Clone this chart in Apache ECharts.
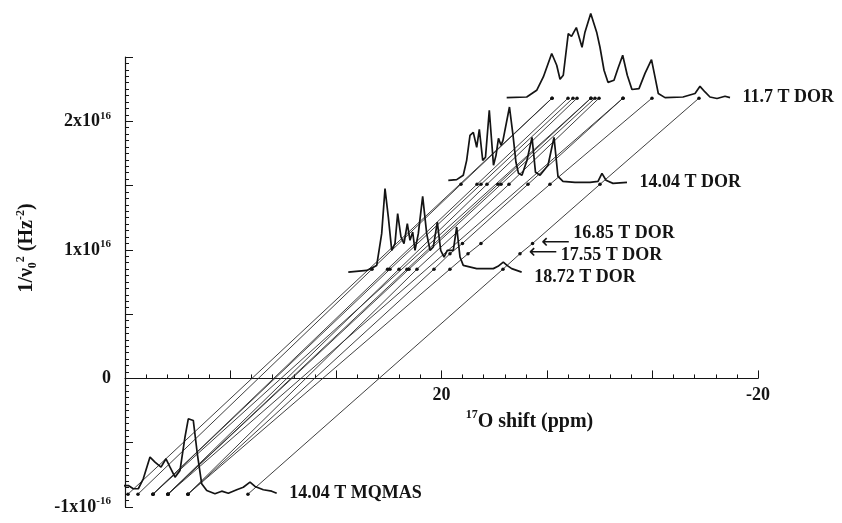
<!DOCTYPE html>
<html>
<head>
<meta charset="utf-8">
<script src="https://cdn.jsdelivr.net/npm/echarts@6/dist/echarts.min.js"></script>
<style>
  html, body { margin: 0; padding: 0; background: #ffffff; }
  #chart { width: 842px; height: 523px; }
</style>
</head>
<body>
<div id="chart"></div>
<script>
// experiments, and their 1/v0^2 level (units of 1e-16 Hz^-2)
const fieldNames  = ['14.04 T MQMAS', '18.72 T DOR', '17.55 T DOR', '16.85 T DOR', '14.04 T DOR', '11.7 T DOR'];
const fieldLevels = [-0.90, 0.85, 0.97, 1.05, 1.51, 2.18];

// observed 17O shift (ppm) of each site at each experiment, null = no mark
const siteShifts = [
  [59.62, null,  null,  null,  null,  6.03],
  [58.36, 28.78, null,  null,  17.54, 6.03],
  [56.46, 26.82, null,  null,  15.51, 4.01],
  [56.46, 26.51, null,  null,  15.01, 3.38],
  [56.46, null,  null,  null,  null,  1.11],
  [54.57, 25.37, null,  null,  14.25, 2.87],
  [54.57, 24.36, null,  null,  12.86, 1.11],
  [54.57, 24.11, null,  null,  12.48, 0.60],
  [54.57, null,  null,  null,  null,  -2.94],
  [52.04, 23.10, null,  null,  11.47, 0.09],
  [52.04, 20.95, 18.93, 17.35, 9.07,  -2.94],
  [52.04, 18.93, 16.65, 15.01, 6.29,  -6.60],
  [44.46, 12.23, 10.08, 8.49,  -0.03, -12.54]
];
// these experiments have no spectrum drawn, only an arrow + name on the last site
const arrowFields = [2, 3];

// spectra: [shift ppm, baseline level + intensity]
const spec1170 = [
  [11.76, 2.184], [9.23, 2.189], [7.97, 2.241], [7.13, 2.345], [6.07, 2.527], [5.44, 2.436],
  [5.02, 2.327], [4.61, 2.358], [3.98, 2.682], [3.57, 2.661], [2.96, 2.729], [2.24, 2.576],
  [1.87, 2.693], [1.14, 2.838], [0.39, 2.693], [-0.03, 2.576], [-0.54, 2.397], [-1.04, 2.303],
  [-1.80, 2.319], [-2.31, 2.412], [-2.90, 2.514], [-3.48, 2.358], [-4.07, 2.247], [-4.96, 2.254],
  [-5.72, 2.373], [-6.54, 2.480], [-6.98, 2.345], [-7.40, 2.216], [-8.25, 2.184], [-10.52, 2.189],
  [-12.04, 2.216], [-12.67, 2.272], [-13.30, 2.228], [-13.93, 2.189], [-14.82, 2.177], [-15.83, 2.195],
  [-16.46, 2.184]
];
const spec1404 = [
  [19.14, 1.541], [18.08, 1.546], [17.25, 1.580], [16.82, 1.696], [16.40, 1.891], [15.98, 1.914],
  [15.55, 1.798], [15.22, 1.938], [14.79, 1.696], [14.44, 1.720], [13.96, 2.086], [13.43, 1.658],
  [13.11, 1.735], [12.80, 1.868], [12.48, 1.813], [12.23, 1.852], [11.41, 2.111], [10.96, 1.891],
  [10.59, 1.681], [10.27, 1.595], [9.83, 1.580], [9.20, 1.696], [8.56, 1.875], [8.12, 1.603],
  [7.55, 1.580], [6.54, 1.658], [5.78, 1.875], [5.28, 1.572], [4.65, 1.533], [3.13, 1.525],
  [1.23, 1.525], [0.22, 1.533], [-0.28, 1.595], [-0.79, 1.541], [-1.67, 1.517], [-3.44, 1.525]
];
const spec1872 = [
  [31.78, 0.827], [29.45, 0.840], [28.19, 0.879], [27.56, 1.126], [27.14, 1.476], [26.72, 1.255],
  [26.29, 0.996], [25.88, 1.048], [25.54, 1.282], [25.12, 1.100], [24.74, 1.048], [24.32, 1.204],
  [23.98, 1.074], [23.64, 1.139], [23.35, 0.996], [22.93, 1.126], [22.38, 1.416], [21.87, 1.126],
  [21.45, 0.996], [21.04, 1.022], [20.53, 1.216], [20.10, 0.996], [19.68, 0.944], [19.27, 0.996],
  [18.51, 0.996], [18.08, 1.178], [17.66, 0.944], [17.25, 0.879], [15.55, 0.854], [13.45, 0.854],
  [12.86, 0.872], [12.19, 0.905], [11.72, 0.879], [11.13, 0.854], [9.87, 0.827]
];
const specMqmas = [
  [63.16, -0.910], [61.26, -0.905], [60.63, -0.897], [60.13, -0.833], [59.58, -0.833], [58.95, -0.858],
  [58.32, -0.858], [57.69, -0.781], [56.84, -0.612], [56.21, -0.651], [55.45, -0.690], [54.82, -0.625],
  [54.31, -0.690], [53.68, -0.768], [53.05, -0.716], [52.42, -0.457], [52.00, -0.314], [51.37, -0.327],
  [50.86, -0.586], [50.31, -0.819], [49.67, -0.872], [48.63, -0.897], [47.78, -0.877], [46.94, -0.893],
  [45.88, -0.866], [45.05, -0.846], [44.20, -0.807], [43.57, -0.840], [42.52, -0.866], [41.46, -0.877],
  [40.83, -0.893]
];
const spectra = [spec1170, spec1404, spec1872, specMqmas];
const spectrumNames = ['11.7 T DOR', '14.04 T DOR', '18.72 T DOR', '14.04 T MQMAS'];

// tick labels
const xLabelValues = [20, -20];
const yLabelValues = [2, 1, 0, -1];
const yLabelTexts  = ['{n|2x10}{s|16}', '{n|1x10}{s|16}', '{n|0}', '{n|-1x10}{s|-16}'];

const SERIF = "'Liberation Serif', 'DejaVu Serif', serif";
const INK = '#141414';

const Y_MIN = -1, Y_MAX = 2.5;
const GRID = { left: 125, right: 84, top: 57, bottom: 16 };
const plotHeight = 523 - GRID.top - GRID.bottom;
// the shift axis sits on the 1/v0^2 = 0 line
const xAxisOffset = -plotHeight * (0 - Y_MIN) / (Y_MAX - Y_MIN);

const chart = echarts.init(document.getElementById('chart'));

const supRich = {
  n: { fontFamily: SERIF, fontWeight: 'bold', fontSize: 18, color: INK, lineHeight: 22 },
  N: { fontFamily: SERIF, fontWeight: 'bold', fontSize: 20, color: INK, lineHeight: 24 },
  s: { fontFamily: SERIF, fontWeight: 'bold', fontSize: 11, color: INK, lineHeight: 10, verticalAlign: 'top' },
  S: { fontFamily: SERIF, fontWeight: 'bold', fontSize: 12, color: INK, lineHeight: 10, verticalAlign: 'top' },
  b: { fontFamily: SERIF, fontWeight: 'bold', fontSize: 12, color: INK, lineHeight: 10, verticalAlign: 'bottom' },
  // arrow a bit below its name (16.85) / a bit above it (17.55)
  aLow:  { fontFamily: 'DejaVu Sans', fontSize: 20, color: INK, lineHeight: 22, padding: [18, 0, 0, 0] },
  aHigh: { fontFamily: 'DejaVu Sans', fontSize: 20, color: INK, lineHeight: 22, padding: [0, 0, 6, 0] }
};

// per arrow field: which arrow style and vertical nudge of the whole label
const arrowStyles  = { 2: 'aHigh', 3: 'aLow' };
const arrowNudges  = { 2: 2, 3: -10 };
const spectrumNudges = [0, 0, 5, 0];

function near(v, target) { return Math.abs(v - target) < 1e-6; }

// fan of straight lines through the marks of each site
const siteSeries = siteShifts.map(function (row, si) {
  const pts = [];
  row.forEach(function (x, fi) {
    if (x === null) return;
    const item = { value: [x, fieldLevels[fi]] };
    if (si === siteShifts.length - 1 && arrowFields.indexOf(fi) >= 0) {
      item.label = {
        show: true,
        position: 'right',
        distance: 7,
        offset: [0, arrowNudges[fi]],
        formatter: '{' + arrowStyles[fi] + '|\u27f5} {n|' + fieldNames[fi] + '}',
        rich: supRich
      };
    }
    pts.push(item);
  });
  return {
    type: 'line',
    data: pts,
    symbol: 'circle',
    symbolSize: 3.5,
    showSymbol: true,
    lineStyle: { color: '#2a2a2a', width: 0.9 },
    itemStyle: { color: '#111' },
    label: { show: false },
    silent: true,
    z: 2
  };
});

const spectrumSeries = spectra.map(function (pts, i) {
  const last = pts[pts.length - 1];
  return {
    type: 'line',
    data: pts,
    symbol: 'none',
    clip: false,
    lineStyle: { color: INK, width: 1.7 },
    silent: true,
    z: 3,
    markPoint: {
      symbol: 'circle',
      symbolSize: 1,
      silent: true,
      itemStyle: { color: 'rgba(0,0,0,0)' },
      label: {
        show: true,
        position: 'right',
        distance: 12,
        offset: [0, spectrumNudges[i]],
        formatter: '{n|' + spectrumNames[i] + '}',
        rich: supRich
      },
      data: [{ coord: last }]
    }
  };
});

const option = {
  backgroundColor: '#ffffff',
  animation: false,
  grid: Object.assign({ outerBoundsMode: 'none', containLabel: false }, GRID),
  xAxis: {
    type: 'value',
    min: -20,
    max: 60,
    interval: 40 / 3,
    inverse: true,
    position: 'bottom',
    offset: xAxisOffset,
    axisLine: { onZero: false, lineStyle: { color: INK, width: 1.2 } },
    axisTick: { show: true, inside: true, length: 8, lineStyle: { color: INK, width: 1 } },
    minorTick: { show: true, splitNumber: 5, length: 4, lineStyle: { color: INK, width: 1 } },
    splitLine: { show: false },
    axisLabel: {
      showMinLabel: true,
      showMaxLabel: true,
      margin: 8,
      fontFamily: SERIF, fontWeight: 'bold', fontSize: 18, color: INK,
      formatter: function (v) {
        const r = Math.round(v);
        return (Math.abs(v - r) < 0.01 && xLabelValues.indexOf(r) >= 0) ? String(r) : '';
      }
    },
    name: '{S|17}{N|O shift (ppm)}',
    nameLocation: 'middle',
    nameGap: 27,
    nameTextStyle: { rich: supRich, padding: [0, 0, 0, 176] }
  },
  yAxis: {
    type: 'value',
    min: Y_MIN,
    max: Y_MAX,
    interval: 0.5,
    position: 'left',
    axisLine: { show: true, onZero: false, lineStyle: { color: INK, width: 1.2 } },
    axisTick: { show: true, inside: true, length: 8, lineStyle: { color: INK, width: 1 } },
    minorTick: { show: true, splitNumber: 10, length: 4, lineStyle: { color: INK, width: 1 } },
    splitLine: { show: false },
    axisLabel: {
      margin: 14,
      showMinLabel: true,
      formatter: function (v) {
        for (let i = 0; i < yLabelValues.length; i++) {
          if (near(v, yLabelValues[i])) return yLabelTexts[i];
        }
        return '';
      },
      rich: supRich
    },
    name: '{N|1/\u03bd}{b|0}{S|2}{N| (Hz}{S|-2}{N|)}',
    nameLocation: 'middle',
    nameRotate: 90,
    nameGap: 86,
    nameTextStyle: { rich: supRich, padding: [0, 0, 0, 68] }
  },
  series: siteSeries.concat(spectrumSeries)
};

chart.setOption(option);
</script>
</body>
</html>
